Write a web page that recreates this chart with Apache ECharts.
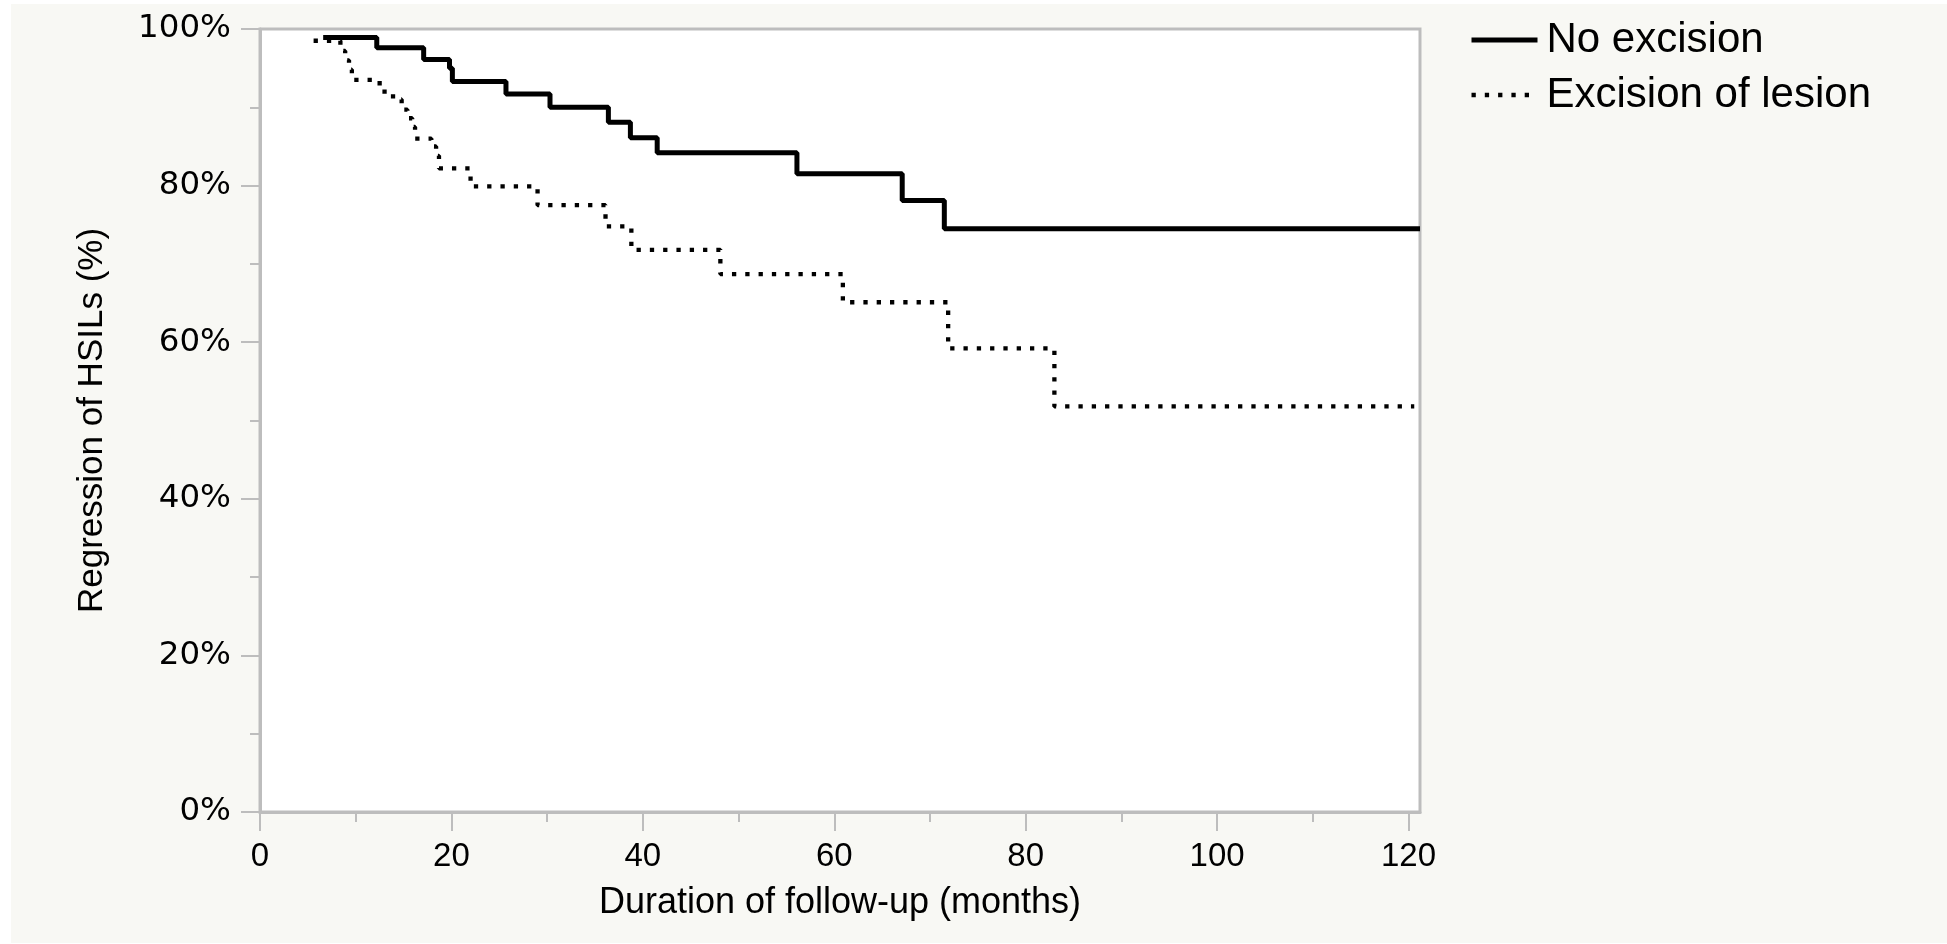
<!DOCTYPE html>
<html>
<head>
<meta charset="utf-8">
<title>Regression of HSILs</title>
<script src="https://cdn.jsdelivr.net/npm/echarts@6/dist/echarts.min.js"></script>
<style>
  html, body { margin: 0; padding: 0; background: #fff; }
  #paper { position: absolute; left: 11px; top: 4px; right: 0; bottom: 1px; background: #f8f8f4; }
  #main { position: absolute; left: 0; top: 0; width: 1947px; height: 944px; }
</style>
</head>
<body>
<div id="paper"></div>
<div id="main"></div>
<script>
// Kaplan-Meier steps: month of each step and level after it
const noExcisionMonths = [6.6, 12.2, 17.1, 19.8, 20.1, 25.7, 30.3, 36.4, 38.7, 41.5, 56.1, 67.1, 71.5, 121.2]
const noExcisionPct = [98.9, 97.6, 96.1, 95.0, 93.3, 91.7, 90.0, 88.1, 86.1, 84.2, 81.5, 78.1, 74.5, 74.5]

const excisionMonths = [5.6, 8.4, 8.9, 9.3, 9.6, 12.5, 13.9, 14.8, 15.4, 15.9, 16.2, 17.9, 18.4, 18.7,
  22.0, 29.0, 36.1, 38.8, 48.1, 60.9, 71.9, 83.0, 120.6]
const excisionPct = [98.5, 97.2, 96.0, 94.8, 93.5, 92.0, 91.0, 89.7, 88.6, 87.5, 86.0, 85.0, 83.8, 82.2,
  79.9, 77.5, 74.8, 71.8, 68.7, 65.1, 59.2, 51.8, 51.8]

const xMajorTicks = [0, 20, 40, 60, 80, 100, 120]
const xMinorTicks = [10, 30, 50, 70, 90, 110]

const FONT = '"Liberation Sans", Arial, Helvetica, sans-serif'
const WIDE_FONT = '"DejaVu Sans", Verdana, sans-serif'
const GRAY = '#bdbdbd'
const solidLine = { color: '#000', width: 5 }
const dottedLine = { color: '#000', width: 4.3, type: [4.3, 9], cap: 'butt' }

function zip(xs, ys) {
  return xs.map((x, i) => [x, ys[i]])
}

const myChart = echarts.init(document.getElementById('main'))
const option = {
  animation: false,
  backgroundColor: 'transparent',
  textStyle: { fontFamily: FONT },
  legend: {
    orient: 'vertical',
    left: 1464,
    top: 14,
    itemWidth: 66,
    itemHeight: 14,
    itemGap: 13,
    // hide the marker dot the line legend adds
    itemStyle: { color: 'transparent', borderColor: 'transparent', borderWidth: 0 },
    textStyle: { fontSize: 42, color: '#000', fontFamily: FONT, padding: [0, 0, 0, 4] },
    data: [
      { name: 'No excision', lineStyle: solidLine },
      { name: 'Excision of lesion', lineStyle: dottedLine }
    ]
  },
  grid: {
    left: 260,
    right: 527,
    top: 29,
    bottom: 132,
    show: true,
    backgroundColor: '#fff',
    borderColor: GRAY,
    borderWidth: 3
  },
  xAxis: [
    {
      type: 'value',
      min: 0,
      max: 121.2,
      name: 'Duration of follow-up (months)',
      nameLocation: 'middle',
      nameGap: 73,
      nameTextStyle: { fontSize: 36, color: '#000', fontFamily: FONT },
      splitLine: { show: false },
      axisLine: { show: true, lineStyle: { color: GRAY, width: 3 } },
      axisTick: { show: true, length: 19, customValues: xMajorTicks, lineStyle: { color: GRAY, width: 2 } },
      axisLabel: { customValues: xMajorTicks, fontSize: 33, color: '#000', margin: 28, fontFamily: FONT }
    },
    {
      type: 'value',
      min: 0,
      max: 121.2,
      position: 'bottom',
      splitLine: { show: false },
      axisLine: { show: false },
      axisTick: { show: true, length: 10, customValues: xMinorTicks, lineStyle: { color: GRAY, width: 2 } },
      axisLabel: { show: false }
    }
  ],
  yAxis: {
    type: 'value',
    min: 0,
    max: 100,
    interval: 20,
    name: 'Regression of HSILs (%)',
    nameLocation: 'middle',
    nameGap: 150,
    nameTextStyle: { fontSize: 35, color: '#000', fontFamily: FONT },
    splitLine: { show: false },
    axisLine: { show: true, lineStyle: { color: GRAY, width: 3 } },
    axisTick: { show: true, length: 19, lineStyle: { color: GRAY, width: 2 } },
    minorTick: { show: true, splitNumber: 2, length: 10, lineStyle: { color: GRAY, width: 2 } },
    axisLabel: { formatter: '{value}%', fontSize: 32.5, color: '#000', margin: 29, fontFamily: WIDE_FONT }
  },
  series: [
    {
      name: 'No excision',
      type: 'line',
      step: 'end',
      symbol: 'none',
      showSymbol: false,
      lineStyle: solidLine,
      itemStyle: { color: '#000' },
      data: zip(noExcisionMonths, noExcisionPct)
    },
    {
      name: 'Excision of lesion',
      type: 'line',
      step: 'end',
      symbol: 'none',
      showSymbol: false,
      lineStyle: dottedLine,
      itemStyle: { color: '#000' },
      data: zip(excisionMonths, excisionPct)
    }
  ]
}
myChart.setOption(option)
</script>
</body>
</html>
